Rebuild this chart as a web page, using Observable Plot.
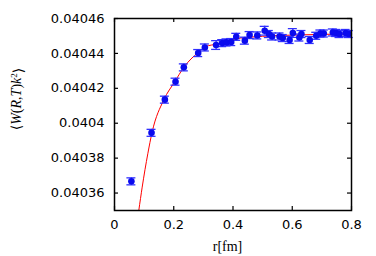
<!DOCTYPE html>
<html><head><meta charset="utf-8">
<script src="https://cdn.jsdelivr.net/npm/d3@7"></script>
<script src="https://cdn.jsdelivr.net/npm/@observablehq/plot@0.6"></script>
<style>body{margin:0;background:#fff} svg{display:block}</style>
</head><body><div id="chart"></div>
<script>
// data
const r = [0.057,0.125,0.170,0.206,0.234,0.2825,0.305,0.343,0.3635,0.378,0.394,0.411,0.440,0.456,0.482,0.507,0.521,0.532,0.557,0.568,0.591,0.602,0.624,0.631,0.659,0.681,0.695,0.7065,0.737,0.748,0.7595,0.780,0.791];
const w = [0.0403667,0.0403945,0.0404135,0.0404238,0.040432,0.0404402,0.0404434,0.0404448,0.0404459,0.0404463,0.0404465,0.0404495,0.0404473,0.0404505,0.0404503,0.040453,0.0404511,0.0404497,0.0404497,0.0404488,0.0404477,0.0404517,0.0404491,0.0404511,0.0404477,0.0404501,0.0404514,0.0404514,0.040452,0.0404517,0.0404511,0.0404517,0.0404511];
const err = [0.000002,0.000002,0.000002,0.000002,0.000002,0.000002,0.000002,0.0000025,0.000002,0.000002,0.000002,0.000002,0.000002,0.000002,0.000002,0.0000025,0.000002,0.000002,0.000002,0.000002,0.000002,0.0000025,0.000002,0.000002,0.000002,0.000002,0.000002,0.000002,0.000002,0.000002,0.000002,0.000002,0.000002];
const fitR = [0.082,0.0935,0.1124,0.127,0.1664,0.2035,0.234,0.2825,0.307,0.3467,0.4,0.5,0.6,0.7,0.8];
const fitW = [0.04035,0.0403634,0.0403825,0.0403949,0.0404134,0.0404238,0.040432,0.0404406,0.0404438,0.0404454,0.0404481,0.0404498,0.0404505,0.0404509,0.0404511];
const xTicks = [0,0.2,0.4,0.6,0.8];
const yTicks = [0.04036,0.04038,0.0404,0.04042,0.04044,0.04046];

const pts = r.map((x,i)=>({r:x, w:w[i], lo:w[i]-err[i], hi:w[i]+err[i]}));
const fit = fitR.map((x,i)=>({r:x, w:fitW[i]}));

const W = 376, H = 256, mL = 114, mR = 25, mT = 18, mB = 46;
const pw = W - mL - mR, ph = H - mT - mB, tk = 4;
const blue = "#0a0aee";

const svg = Plot.plot({
  width: W, height: H,
  marginLeft: mL, marginRight: mR, marginTop: mT, marginBottom: mB,
  style: {fontFamily: "DejaVu Sans", fontSize: "13px", color: "black", background: "white"},
  x: {domain: [0, 0.8]},
  y: {domain: [0.04035, 0.04046]},
  marks: [
    Plot.axisY(yTicks, {anchor: "left", tickSize: 0, tickPadding: 10, label: null, fontSize: 13, tickFormat: d => String(+d.toFixed(5))}),
    Plot.axisX(xTicks, {anchor: "bottom", tickSize: 0, tickPadding: 9, label: null, fontSize: 13, tickFormat: d => String(+d.toFixed(1))}),
    Plot.tickY(yTicks, {y: d => d, stroke: "black", strokeWidth: 1.2, insetRight: pw - tk}),
    Plot.tickY(yTicks, {y: d => d, stroke: "black", strokeWidth: 1.2, insetLeft: pw - tk}),
    Plot.tickX(xTicks, {x: d => d, stroke: "black", strokeWidth: 1.2, insetTop: ph - tk}),
    Plot.tickX(xTicks, {x: d => d, stroke: "black", strokeWidth: 1.2, insetBottom: ph - tk}),
    Plot.line(fit, {x: "r", y: "w", stroke: "#ff0000", strokeWidth: 1, curve: "monotone-x", clip: true}),
    Plot.ruleX(pts, {x: "r", y1: "lo", y2: "hi", stroke: "#3030ff", strokeWidth: 1.3}),
    Plot.ruleY(pts, {y: "lo", x1: "r", x2: "r", insetLeft: -4.5, insetRight: -4.5, stroke: "#3030ff", strokeWidth: 1.3}),
    Plot.ruleY(pts, {y: "hi", x1: "r", x2: "r", insetLeft: -4.5, insetRight: -4.5, stroke: "#3030ff", strokeWidth: 1.3}),
    Plot.dot(pts, {x: "r", y: "w", r: 3.3, fill: blue, stroke: "none"}),
    Plot.frame({stroke: "black", strokeWidth: 1.5})
  ]
});

const lab = d3.select(svg).append("text")
  .attr("transform", `translate(21,99) rotate(-90)`)
  .attr("text-anchor", "middle")
  .style("font-family", "'Liberation Serif', 'DejaVu Serif', serif")
  .style("font-size", "14px")
  .attr("fill", "black");
const parts = [["⟨",false],["W",true],["(",false],["R",true],[",",false],["T",true],[")",false],["k",true]];
parts.forEach(([t,it]) => lab.append("tspan").text(t).style("font-style", it ? "italic" : "normal"));
lab.append("tspan").text("2").attr("dy", "-0.4em").style("font-size", "9px");
lab.append("tspan").text("⟩").attr("dy", "0.4em");

d3.select(svg).append("text")
  .attr("x", mL + pw * 0.5 - 5).attr("y", 251)
  .attr("text-anchor", "middle")
  .style("font-family", "'Liberation Serif', serif")
  .style("font-size", "14px")
  .attr("fill", "black")
  .text("r[fm]");

document.getElementById("chart").appendChild(svg);
</script>
</body></html>
